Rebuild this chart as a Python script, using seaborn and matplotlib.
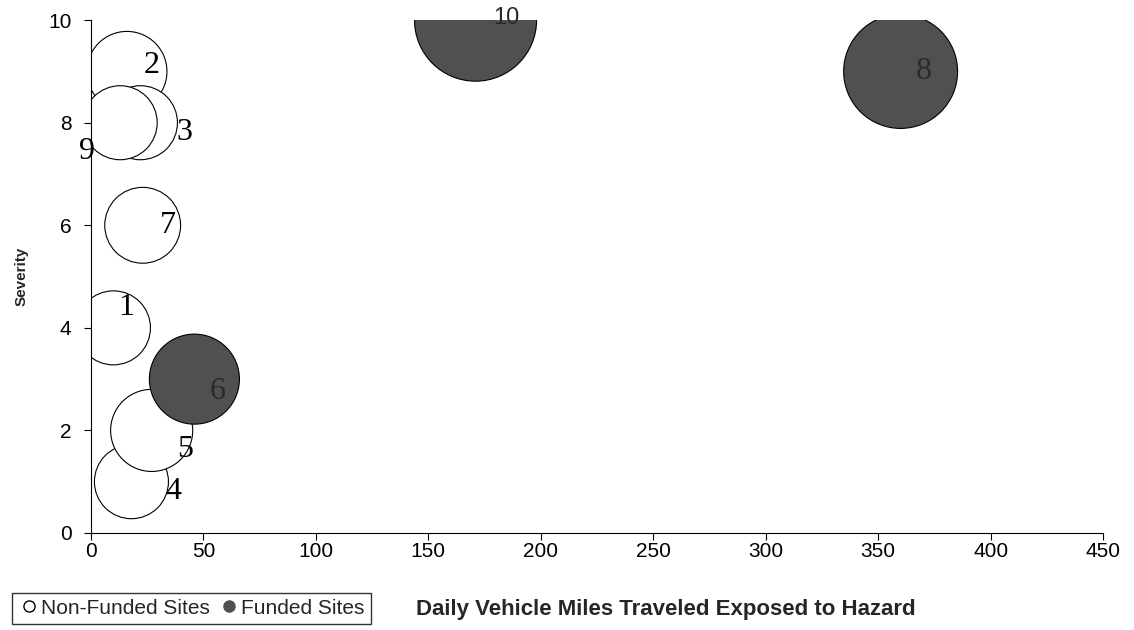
import pandas as pd
import seaborn as sns
import matplotlib.pyplot as plt
from matplotlib.lines import Line2D

# Site data
sites = ['1', '2', '3', '4', '5', '6', '7', '8', '9', '10']
daily_vmt = [10, 16, 22, 18, 27, 46, 23, 360, 13, 171]
severity = [4, 9, 8, 1, 2, 3, 6, 9, 8, 10]
bubble_size = [1.00, 1.17, 1.00, 1.00, 1.23, 1.48, 1.05, 2.37, 1.00, 2.72]
status = ['Non-Funded', 'Non-Funded', 'Non-Funded', 'Non-Funded', 'Non-Funded',
          'Funded', 'Non-Funded', 'Funded', 'Non-Funded', 'Funded']

# label offsets (points) from bubble centre
label_dx = [9, 18, 32, 30, 24, 17, 18, 17, -24, 22]
label_dy = [15, 4, -7, -7, -14, -9, 0, 0, -21, 1.5]

df = pd.DataFrame({'Site': sites, 'VMT': daily_vmt, 'Severity': severity,
                   'Size': bubble_size, 'Status': status})

sns.set_style('ticks')
plt.rcParams['font.family'] = ['Liberation Sans', 'DejaVu Sans']

fig = plt.figure(figsize=(11.34, 6.3), dpi=100)
ax = fig.add_axes([0.0802, 0.154, 0.8925, 0.814])

palette = {'Non-Funded': 'white', 'Funded': '#505050'}
sns.scatterplot(data=df, x='VMT', y='Severity', size='Size', sizes=(2840, 7725),
                size_norm=(1.0, 2.72), hue='Status', palette=palette,
                edgecolor='black', linewidth=0.8, alpha=1, legend=False, ax=ax)

# data labels
for i, row in df.iterrows():
    funded = row['Status'] == 'Funded'
    ax.annotate(row['Site'], (row['VMT'], row['Severity']),
                xytext=(label_dx[i], label_dy[i]), textcoords='offset points',
                ha='center', va='center',
                family='Liberation Sans' if row['Site'] == '10' else 'Liberation Serif',
                fontsize=17 if row['Site'] == '10' else 23,
                color='#2a2a2a' if funded else 'black', annotation_clip=False)

ax.set_xlim(0, 450)
ax.set_ylim(0, 10)
ax.set_xticks(range(0, 451, 50))
ax.set_yticks(range(0, 11, 2))
ax.tick_params(labelsize=15, length=5, width=0.8, colors='black')
ax.tick_params(axis='y', pad=9)
ax.tick_params(axis='x', pad=1.5)
sns.despine(ax=ax)
for s in ['left', 'bottom']:
    ax.spines[s].set_color('black')
    ax.spines[s].set_linewidth(0.8)

ax.set_xlabel('Daily Vehicle Miles Traveled Exposed to Hazard', fontsize=16, fontweight='bold')
ax.xaxis.set_label_coords(0.568, -0.128)
ax.set_ylabel('Severity', fontsize=11, fontweight='bold')
ax.yaxis.set_label_coords(-0.062, 0.5)

handles = [Line2D([], [], marker='o', linestyle='', markerfacecolor='white',
                  markeredgecolor='black', markersize=8, label='Non-Funded Sites'),
           Line2D([], [], marker='o', linestyle='', markerfacecolor='#505050',
                  markeredgecolor='#505050', markersize=8, label='Funded Sites')]
leg = fig.legend(handles=handles, loc='lower left', bbox_to_anchor=(0.0106, 0.0095),
                 ncol=2, fontsize=15, frameon=True, fancybox=False, borderpad=0.3,
                 handletextpad=0.1, columnspacing=0.4, handlelength=1.0, borderaxespad=0)
leg.get_frame().set_edgecolor('black')
leg.get_frame().set_linewidth(1.0)

fig.savefig('out.png', dpi=100)
